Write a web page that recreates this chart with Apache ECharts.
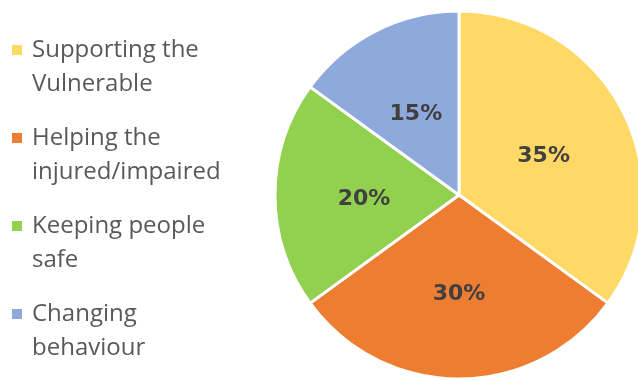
<!DOCTYPE html>
<html>
<head>
<meta charset="utf-8">
<script src="https://cdn.jsdelivr.net/npm/echarts@6/dist/echarts.min.js"></script>
<style>
  html, body { margin: 0; padding: 0; background: #fff; }
  #chart { width: 638px; height: 380px; }
</style>
</head>
<body>
<div id="chart"></div>
<script>
// Share of activity by focus area
const categories = ['Supporting the Vulnerable', 'Helping the injured/impaired', 'Keeping people safe', 'Changing behaviour'];
const legendLines = [
  ['Supporting the', 'Vulnerable'],
  ['Helping the', 'injured/impaired'],
  ['Keeping people', 'safe'],
  ['Changing', 'behaviour']
];
const shares = [35, 30, 20, 15];
const colors = ['#FFD966', '#ED7D31', '#92D050', '#8EA9DB'];

const LEGEND_FONT = 'Open Sans';
const LABEL_FONT = 'DejaVu Sans';

// rich-text styles: one coloured square per category, spacers, text
const rich = {
  gap: { width: 10, height: 10 },
  ind: { width: 20, height: 10 },
  t: { fontFamily: LEGEND_FONT, fontSize: 24, color: '#595959', lineHeight: 34 }
};
colors.forEach((c, i) => {
  rich['m' + i] = { width: 10, height: 10, backgroundColor: c };
});

const chart = echarts.init(document.getElementById('chart'), null, { renderer: 'canvas' });
chart.setOption({
  animation: false,
  legend: {
    orient: 'vertical',
    left: 6,
    top: 33,
    padding: 0,
    itemGap: 20,
    itemWidth: 0,
    itemHeight: 0,
    icon: 'rect',
    selectedMode: false,
    data: categories,
    formatter: function (name) {
      const i = categories.indexOf(name);
      const l = legendLines[i];
      return '{m' + i + '|}{gap|}{t|' + l[0] + '}\n{ind|}{t|' + l[1] + '}';
    },
    textStyle: { fontFamily: LEGEND_FONT, fontSize: 24, color: '#595959', lineHeight: 34, rich: rich }
  },
  series: [{
    type: 'pie',
    center: [459, 195],
    radius: 184,
    startAngle: 90,
    clockwise: true,
    silent: true,
    itemStyle: { borderColor: '#ffffff', borderWidth: 3 },
    label: {
      position: 'inside',
      formatter: '{c}%',
      fontFamily: LABEL_FONT,
      fontSize: 22,
      fontWeight: 'bold',
      color: '#404040',
      offset: [0, 4]
    },
    labelLine: { show: false },
    data: categories.map((n, i) => ({ name: n, value: shares[i], itemStyle: { color: colors[i] } }))
  }]
});
</script>
</body>
</html>
